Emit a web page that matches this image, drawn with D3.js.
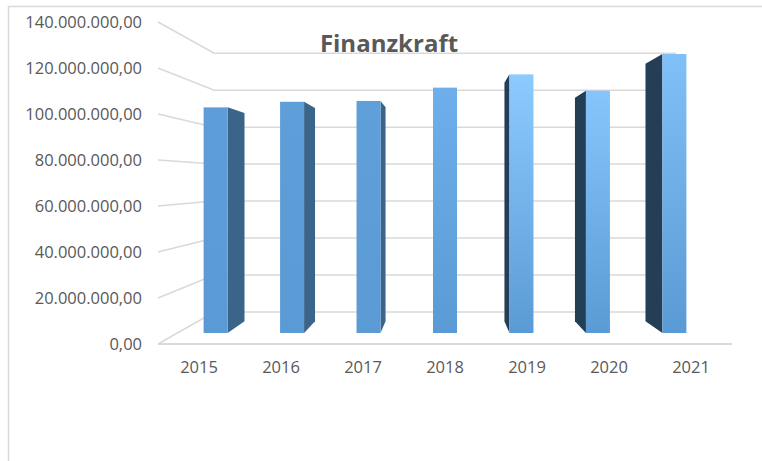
<!DOCTYPE html>
<html>
<head>
<meta charset="utf-8" />
<title>Finanzkraft</title>
<style>
html, body {
	margin: 0px;
	padding: 0px;
	background: #fff;
}
svg text {
	font-family: "Open Sans", "Noto Sans", sans-serif;
	fill: #595959;
}
</style>
</head>
<body>

<div id="chart"></div>

<script src="https://d3js.org/d3.v7.min.js"></script>

<script>

// data
var years = ["2015", "2016", "2017", "2018", "2019", "2020", "2021"];
var finanzkraft = [105200000, 107800000, 108200000, 114400000, 120600000, 113000000, 130100000];
var yTicks = [0, 20000000, 40000000, 60000000, 80000000, 100000000, 120000000, 140000000];

var W = 762, H = 461;

// perspective: vanishing point and depth factors (front plane = 1)
var vp = [445, 181];
var kBarFront = 0.9325, kBarBack = 0.86, kWall = 0.804;

function proj(x, y, k) {
	return [vp[0] + (x - vp[0]) * k, vp[1] + (y - vp[1]) * k];
}

// scales in the front plane
var x = d3.scaleBand().domain(years).range([158, 732]);
var y = d3.scaleLinear().domain([0, 140000000]).range([344, 22]);
var barW = x.bandwidth() * 0.314;

var de = d3.formatLocale({decimal: ",", thousands: ".", grouping: [3], currency: ["", "€"]});
var fmt = de.format(",.2f");

var svg = d3.select("#chart").append("svg")
	.attr("width", W)
	.attr("height", H);

// chart frame
svg.append("path")
	.attr("d", "M8.5," + H + "V6.5H" + W)
	.attr("fill", "none")
	.attr("stroke", "#d9d9d9")
	.attr("stroke-width", 1.5);

var defs = svg.append("defs");

// gridlines: left wall diagonals + back wall
var grid = svg.append("g").attr("stroke", "#d9d9d9").attr("stroke-width", 1.5).attr("fill", "none");
var x0 = x.range()[0], x1 = x.range()[1];
yTicks.forEach(function(t) {
	var a = proj(x0, y(t), 1), b = proj(x0, y(t), kWall), c = proj(x1, y(t), kWall);
	grid.append("path").attr("d", "M" + a + "L" + b + "L" + c);
});

// front floor line
svg.append("line")
	.attr("x1", x0).attr("x2", x1)
	.attr("y1", y(0)).attr("y2", y(0))
	.attr("stroke", "#d9d9d9")
	.attr("stroke-width", 2.2);

// lighter top for bars further right
var topColor = d3.scaleLinear()
	.domain([-3, -1, 0, 1, 3])
	.range(["#5d9ed8", "#5fa0da", "#6eaeea", "#8ccaff", "#80c0f8"]);

var bars = svg.append("g").selectAll("g")
	.data(years.map(function(d, i) { return {year: d, value: finanzkraft[i], i: i}; }))
	.enter()
	.append("g");

bars.each(function(d) {
	var g = d3.select(this);
	var cx = x(d.year) + x.bandwidth() / 2;
	var l = cx - barW / 2, r = cx + barW / 2;
	var yt = y(d.value), yb = y(0);
	var off = d.i - 3;

	var gid = "grad" + d.i;
	var grad = defs.append("linearGradient").attr("id", gid)
		.attr("x1", 0).attr("y1", 0).attr("x2", 0).attr("y2", 1);
	grad.append("stop").attr("offset", "0%").attr("stop-color", topColor(off));
	grad.append("stop").attr("offset", "100%").attr("stop-color", "#5b9bd5");

	// side face
	if (off !== 0) {
		var ex = off < 0 ? r : l;
		var pts = [proj(ex, yt, kBarFront), proj(ex, yt, kBarBack), proj(ex, yb, kBarBack), proj(ex, yb, kBarFront)];
		g.append("path")
			.attr("d", "M" + pts.join("L") + "Z")
			.attr("fill", off < 0 ? "#3a6489" : "#243e56");
	}

	// front face
	var p0 = proj(l, yt, kBarFront), p1 = proj(r, yb, kBarFront);
	g.append("rect")
		.attr("x", p0[0])
		.attr("y", p0[1])
		.attr("width", p1[0] - p0[0])
		.attr("height", p1[1] - p0[1])
		.attr("fill", "url(#" + gid + ")");
});

// value axis labels
svg.append("g").selectAll("text")
	.data(yTicks)
	.enter()
	.append("text")
		.attr("x", 142)
		.attr("y", function(d) { return y(d) + 6; })
		.attr("text-anchor", "end")
		.attr("font-size", "16.5px")
		.text(fmt);

// category labels
svg.append("g").selectAll("text")
	.data(years)
	.enter()
	.append("text")
		.attr("x", function(d) { return x(d) + x.bandwidth() / 2; })
		.attr("y", 373)
		.attr("text-anchor", "middle")
		.attr("font-size", "16.5px")
		.text(function(d) { return d; });

// title
svg.append("text")
	.attr("x", 389)
	.attr("y", 52)
	.attr("text-anchor", "middle")
	.attr("font-size", "24px")
	.attr("font-weight", "bold")
	.text("Finanzkraft");

</script>
</body>
</html>
